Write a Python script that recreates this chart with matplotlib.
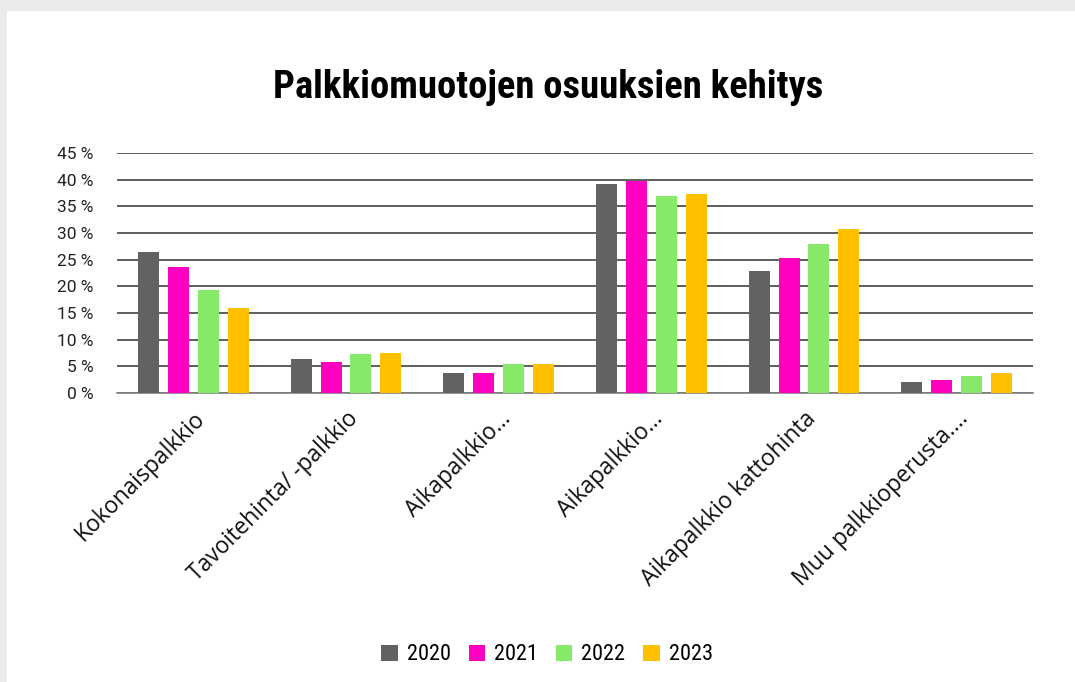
import numpy as np
import matplotlib.pyplot as plt
from matplotlib.patches import Rectangle

categories = ['Kokonaispalkkio', 'Tavoitehinta/ -palkkio', 'Aikapalkkio...',
              'Aikapalkkio...', 'Aikapalkkio kattohinta', 'Muu palkkioperusta....']
years = ['2020', '2021', '2022', '2023']
v2020 = [26.4, 6.3, 3.7, 39.2, 22.9, 2.0]
v2021 = [23.6, 5.8, 3.7, 39.8, 25.3, 2.4]
v2022 = [19.3, 7.3, 5.4, 37.0, 27.9, 3.2]
v2023 = [15.9, 7.5, 5.4, 37.4, 30.8, 3.7]
colors = ['#626262', '#ff00c0', '#86e96a', '#ffc000']
yticks = [0, 5, 10, 15, 20, 25, 30, 35, 40, 45]

plt.rcParams['font.family'] = ['Roboto', 'DejaVu Sans']
narrow = ['Liberation Sans Narrow', 'Roboto Condensed', 'DejaVu Sans']

fig = plt.figure(figsize=(10.75, 6.82), dpi=100)
fig.patch.set_facecolor('#ebebeb')
fig.patches.append(Rectangle((7 / 1075, 0), 1, 1 - 11 / 682, transform=fig.transFigure,
                             facecolor='white', edgecolor='none', zorder=-10))

ax = fig.add_axes([117 / 1075, 1 - 393 / 682, 916 / 1075, 240 / 682])
ax.set_facecolor('none')

x = np.arange(len(categories))
step = 0.196
width = 0.1375
for i, (vals, c, yr) in enumerate(zip([v2020, v2021, v2022, v2023], colors, years)):
    ax.bar(x + (i - 1.5) * step, vals, width, color=c, label=yr, zorder=3)

ax.set_xlim(-0.5, len(categories) - 0.5)
ax.set_ylim(0, 45)
ax.set_yticks(yticks)
ax.set_yticklabels([f'{t} %' for t in yticks], fontsize=12.5, color='#222222')
ax.yaxis.grid(True, color='#333333', lw=1.1, zorder=0)
ax.tick_params(axis='both', length=0)
ax.tick_params(axis='y', pad=17)
for s in ['top', 'right', 'left']:
    ax.spines[s].set_visible(False)
ax.spines['bottom'].set_color('#808080')
ax.spines['bottom'].set_linewidth(1.2)

ax.set_xticks(x)
ax.set_xticklabels(categories, rotation=45, ha='right', va='top',
                   rotation_mode='anchor', fontsize=16.5, color='#111111',
                   family=['Open Sans', 'DejaVu Sans'])
ax.tick_params(axis='x', pad=10)

fig.text(548 / 1075, 1 - 88 / 682, 'Palkkiomuotojen osuuksien kehitys',
         ha='center', va='center', fontsize=27.8, fontweight='bold', family=narrow)

leg = ax.legend(loc='center', bbox_to_anchor=(547 / 1075, 1 - 655 / 682),
                bbox_transform=fig.transFigure, ncol=4, frameon=False,
                prop={'family': narrow, 'size': 16}, handlelength=0.75, handleheight=0.75,
                handletextpad=0.4, columnspacing=0.8)

fig.savefig('out.png', dpi=100, facecolor=fig.get_facecolor())
